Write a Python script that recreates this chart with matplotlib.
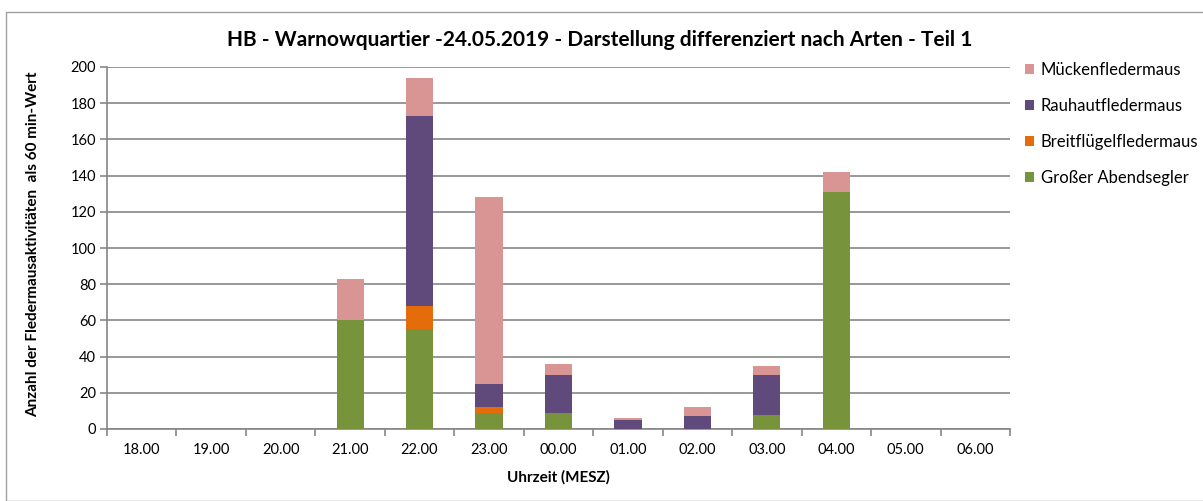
import matplotlib.pyplot as plt
import numpy as np
from matplotlib.patches import Rectangle

plt.rcParams['font.family'] = ['Lato', 'DejaVu Sans']

hours = ['18.00', '19.00', '20.00', '21.00', '22.00', '23.00', '00.00',
         '01.00', '02.00', '03.00', '04.00', '05.00', '06.00']
abendsegler = [0, 0, 0, 60, 55, 9, 9, 0, 0, 8, 131, 0, 0]
breitfluegel = [0, 0, 0, 0, 13, 3, 0, 0, 0, 0, 0, 0, 0]
rauhaut = [0, 0, 0, 0, 105, 13, 21, 5, 7, 22, 0, 0, 0]
muecken = [0, 0, 0, 23, 21, 103, 6, 1, 5, 5, 11, 0, 0]

series = [
    ('Großer Abendsegler', abendsegler, '#77933C'),
    ('Breitflügelfledermaus', breitfluegel, '#E46C0A'),
    ('Rauhautfledermaus', rauhaut, '#604A7B'),
    ('Mückenfledermaus', muecken, '#D99594'),
]

fig = plt.figure(figsize=(12.03, 5.01), dpi=100)
ax = fig.add_axes([107 / 1203, (501 - 429) / 501, (1010 - 107) / 1203, (429 - 67) / 501])

x = np.arange(len(hours))
bottom = np.zeros(len(hours))
handles = []
for name, vals, color in series:
    b = ax.bar(x, vals, width=0.39, bottom=bottom, color=color, label=name, zorder=3)
    handles.append(b)
    bottom += np.array(vals)

axis_col = '#868686'
ax.set_xlim(-0.5, len(hours) - 0.5)
ax.set_ylim(0, 200)
ax.set_yticks(range(0, 201, 20))
ax.yaxis.grid(True, color=axis_col, linewidth=1.2, zorder=0)
ax.set_xticks(x)
ax.set_xticklabels(hours)
ax.set_xticks(np.arange(-0.5, len(hours), 1), minor=True)
ax.tick_params(axis='x', which='major', length=0, pad=10, labelsize=10.5)
ax.tick_params(axis='x', which='minor', length=5, color=axis_col, width=1.2)
ax.tick_params(axis='y', length=5, color=axis_col, width=1.2, labelsize=10.5, pad=3)
for side in ['top', 'right']:
    ax.spines[side].set_visible(False)
for side in ['left', 'bottom']:
    ax.spines[side].set_color(axis_col)
    ax.spines[side].set_linewidth(1.2)

fig.text(600 / 1203, 1 - 40 / 501,
         'HB - Warnowquartier -24.05.2019 - Darstellung differenziert nach Arten - Teil 1',
         fontsize=15, fontweight='bold', ha='center', va='center')
fig.text(558 / 1203, 1 - 477 / 501, 'Uhrzeit (MESZ)', fontsize=11, fontweight='bold',
         ha='center', va='center')
fig.text(33 / 1203, 1 - 244 / 501, 'Anzahl der Fledermausaktivitäten  als 60 min-Wert',
         fontsize=11, fontweight='bold', rotation=90, ha='center', va='center')

leg = fig.legend(handles[::-1], [s[0] for s in series][::-1], loc='upper left',
                 bbox_to_anchor=(1010 / 1203, 1 - 47 / 501), frameon=False,
                 fontsize=12, handlelength=0.55, handleheight=0.55,
                 handletextpad=0.4, labelspacing=1.2)

fig.patches.append(Rectangle((6 / 1203, 0), 1.0, 1 - 12 / 501, transform=fig.transFigure,
                             fill=False, edgecolor='#A0A0A0', linewidth=1.0))

fig.savefig('out.png', dpi=100)
